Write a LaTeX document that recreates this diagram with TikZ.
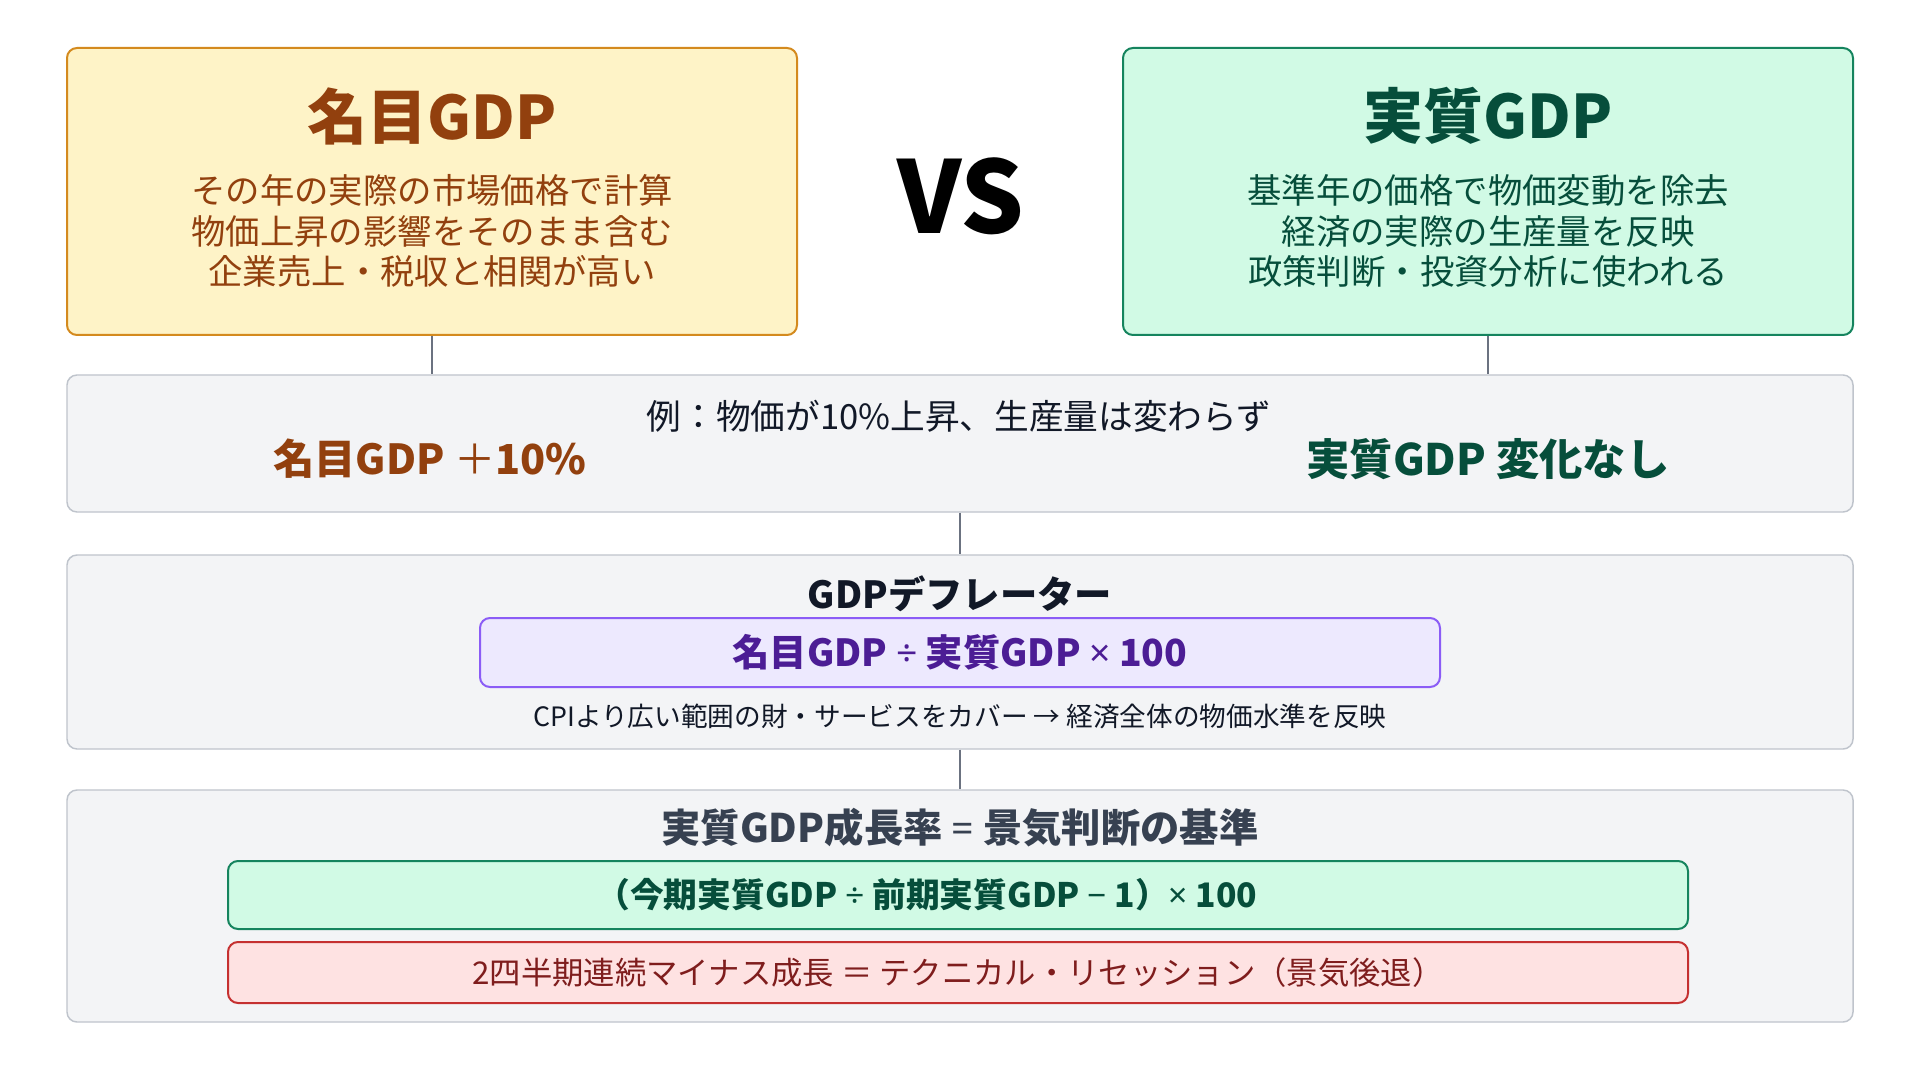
\documentclass[tikz,border=0pt]{standalone}
\usepackage{fontspec}
\setmainfont{Noto Sans CJK JP}
\newfontfamily\narrowsym{Noto Sans}
\begin{document}
\begin{tikzpicture}[x = 0.75pt, y = -0.75pt,
  card/.style = {rectangle, rounded corners = 7.5pt, line width = 1.5pt, inner sep = 0pt},
  panel/.style = {card, draw = panelline, fill = panelfill, line width = 1.1pt, minimum width = 1786*\unitpx},
  label/.style = {inner sep = 0pt, align = center},
  link/.style = {draw = linkgray, line width = 1.6pt}]
\pgfmathsetlengthmacro\unitpx{0.75pt};
\definecolor{nomfill}{HTML}{FEF3C7}
\definecolor{nomline}{HTML}{D48A1E}
\definecolor{nomtext}{HTML}{92400E}
\definecolor{realfill}{HTML}{D1FAE5}
\definecolor{realline}{HTML}{15845E}
\definecolor{realtext}{HTML}{064E3B}
\definecolor{panelfill}{HTML}{F3F4F6}
\definecolor{panelline}{HTML}{BFC4CC}
\definecolor{linkgray}{HTML}{6B7280}
\definecolor{purplefill}{HTML}{EDE9FE}
\definecolor{purpleline}{HTML}{8B5CF6}
\definecolor{purpletext}{HTML}{4C1D95}
\definecolor{redfill}{HTML}{FEE2E2}
\definecolor{redline}{HTML}{C53030}
\definecolor{redtext}{HTML}{7F1D1D}
\definecolor{darktext}{HTML}{111827}
\definecolor{slatetext}{HTML}{374151}
\fill[white] (0,0) rectangle (1920,1080);
\useasboundingbox (0,0) rectangle (1920,1080);
\node[card, draw = nomline, fill = nomfill, minimum width = 730*\unitpx, minimum height = 287*\unitpx] (nombox) at (432,191.5) {};
\node[card, draw = realline, fill = realfill, minimum width = 730*\unitpx, minimum height = 287*\unitpx] (realbox) at (1488,191.5) {};
\node[panel, minimum height = 137*\unitpx] (exbox) at (960,443.5) {};
\node[panel, minimum height = 194*\unitpx] (deflbox) at (960,652) {};
\node[panel, minimum height = 232*\unitpx] (growbox) at (960,906) {};
\draw[link] (nombox.south) -- (nombox.south |- exbox.north);
\draw[link] (realbox.south) -- (realbox.south |- exbox.north);
\draw[link] (exbox.south) -- (deflbox.north);
\draw[link] (deflbox.south) -- (growbox.north);
\node[label, text = nomtext, font = \fontsize{45}{50}\selectfont\bfseries] (nomtitle) at (432,116) {名目GDP};
\node[label, text = nomtext, font = \fontsize{25.8}{30.4}\selectfont] (nombody) at (432,231) {その年の実際の市場価格で計算\\物価上昇の影響をそのまま含む\\企業売上・税収と相関が高い};
\node[label, text = realtext, font = \fontsize{45}{50}\selectfont\bfseries] (realtitle) at (1488,116) {実質GDP};
\node[label, text = realtext, font = \fontsize{25.8}{30.4}\selectfont] (realbody) at (1488,231) {基準年の価格で物価変動を除去\\経済の実際の生産量を反映\\政策判断・投資分析に使われる};
\node[label, text = black, font = \fontsize{75}{80}\selectfont\bfseries] (vs) at (961,196) {VS};
\node[label, text = darktext, font = \fontsize{26}{30}\selectfont] (exnote) at (959,416) {例：物価が10\%上昇、生産量は変わらず};
\node[label, text = nomtext, font = \fontsize{31}{36}\selectfont\bfseries] (exnom) at (430,459) {名目GDP {\mdseries ＋}10\%};
\node[label, text = realtext, font = \fontsize{32.5}{36}\selectfont\bfseries] (exreal) at (1488,459) {実質GDP 変化なし};
\node[label, text = darktext, font = \fontsize{28}{32}\selectfont\bfseries] (defltitle) at (960,594) {GDPデフレーター};
\node[card, draw = purpleline, fill = purplefill, minimum width = 960*\unitpx, minimum height = 69*\unitpx] (deflform) at (960,652.5) {};
\node[label, text = purpletext, font = \fontsize{28}{32}\selectfont\bfseries] (defltext) at (deflform) {名目GDP {\narrowsym ÷} 実質GDP {\narrowsym ×} 100};
\node[label, text = darktext, font = \fontsize{20}{24}\selectfont] (deflnote) at (960,716) {CPIより広い範囲の財・サービスをカバー → 経済全体の物価水準を反映};
\node[label, text = slatetext, font = \fontsize{29.5}{34}\selectfont\bfseries] (growtitle) at (960,828) {実質GDP成長率 {\narrowsym =} 景気判断の基準};
\node[card, draw = realline, fill = realfill, minimum width = 1460*\unitpx, minimum height = 68*\unitpx] (growform) at (958,895) {};
\node[label, text = realtext, font = \fontsize{25.3}{30}\selectfont\bfseries] (growtext) at ([xshift = -31*\unitpx]growform.center) {（今期実質GDP {\narrowsym ÷} 前期実質GDP {\narrowsym −} 1）{\narrowsym ×} 100};
\node[card, draw = redline, fill = redfill, minimum width = 1460*\unitpx, minimum height = 61*\unitpx] (recbox) at (958,972.5) {};
\node[label, text = redtext, font = \fontsize{23.5}{27}\selectfont] (rectext) at (recbox) {2四半期連続マイナス成長 ＝ テクニカル・リセッション（景気後退）};
\end{tikzpicture}
\end{document}
